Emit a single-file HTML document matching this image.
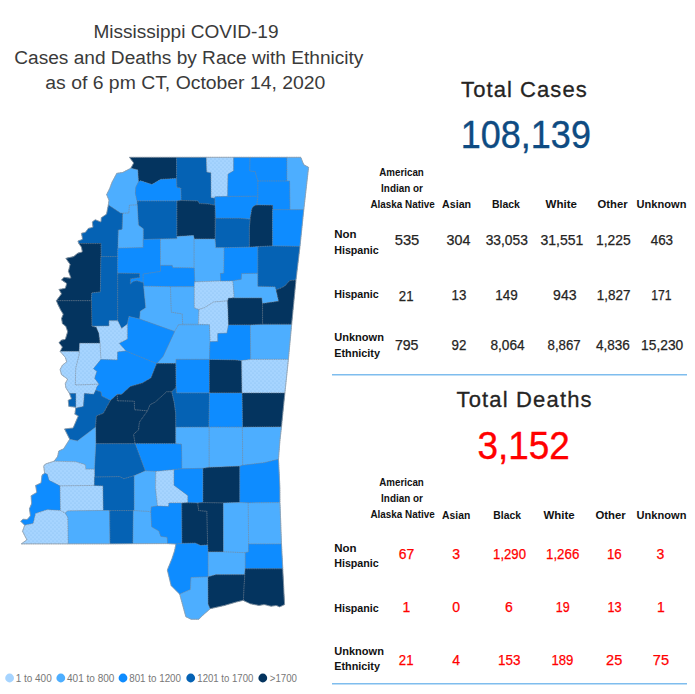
<!DOCTYPE html>
<html lang="en"><head><meta charset="utf-8"><title>Mississippi COVID-19 Cases and Deaths by Race with Ethnicity</title>
<style>
html,body{margin:0;padding:0;background:#fff;}
svg{display:block;font-family:"Liberation Sans", "DejaVu Sans", sans-serif;}
</style></head><body>
<svg width="695" height="694" viewBox="0 0 695 694">
<rect width="695" height="694" fill="#ffffff"/>
<text x="93.4" y="37.9" font-size="18" fill="#3a3a3a" font-weight="normal" textLength="185.1" lengthAdjust="spacingAndGlyphs">Mississippi COVID-19</text>
<text x="14.3" y="63.8" font-size="18" fill="#3a3a3a" font-weight="normal" textLength="349.1" lengthAdjust="spacingAndGlyphs">Cases and Deaths by Race with Ethnicity</text>
<text x="45.3" y="89.1" font-size="18" fill="#3a3a3a" font-weight="normal" textLength="280.1" lengthAdjust="spacingAndGlyphs">as of 6 pm CT, October 14, 2020</text>
<text x="461.1" y="97.0" font-size="22" fill="#252423" font-weight="normal" textLength="125.6" lengthAdjust="spacing" stroke="#252423" stroke-width="0.3">Total Cases</text>
<text x="460.8" y="147.9" font-size="38.5" fill="#0E4B82" font-weight="normal" textLength="130.1" lengthAdjust="spacingAndGlyphs" stroke="#0E4B82" stroke-width="0.4">108,139</text>
<text x="456.5" y="407.0" font-size="22" fill="#252423" font-weight="normal" textLength="135.1" lengthAdjust="spacing" stroke="#252423" stroke-width="0.3">Total Deaths</text>
<text x="477.6" y="459.2" font-size="38.5" fill="#FF0000" font-weight="normal" textLength="92.3" lengthAdjust="spacingAndGlyphs" stroke="#FF0000" stroke-width="0.4">3,152</text>
<text x="379.3" y="176.3" font-size="10" fill="#111111" font-weight="bold" textLength="44.5" lengthAdjust="spacingAndGlyphs">American</text>
<text x="381.1" y="191.9" font-size="10" fill="#111111" font-weight="bold" textLength="41.8" lengthAdjust="spacingAndGlyphs">Indian or</text>
<text x="370.4" y="207.9" font-size="10" fill="#111111" font-weight="bold" textLength="64.3" lengthAdjust="spacingAndGlyphs">Alaska Native</text>
<text x="442.1" y="207.8" font-size="10" fill="#111111" font-weight="bold" textLength="29.0" lengthAdjust="spacingAndGlyphs">Asian</text>
<text x="491.9" y="207.8" font-size="10" fill="#111111" font-weight="bold" textLength="28.0" lengthAdjust="spacingAndGlyphs">Black</text>
<text x="545.6" y="207.8" font-size="10" fill="#111111" font-weight="bold" textLength="31.4" lengthAdjust="spacingAndGlyphs">White</text>
<text x="597.6" y="207.8" font-size="10" fill="#111111" font-weight="bold" textLength="30.0" lengthAdjust="spacingAndGlyphs">Other</text>
<text x="636.6" y="207.8" font-size="10" fill="#111111" font-weight="bold" textLength="49.8" lengthAdjust="spacingAndGlyphs">Unknown</text>
<text x="379.3" y="486.3" font-size="10" fill="#111111" font-weight="bold" textLength="44.5" lengthAdjust="spacingAndGlyphs">American</text>
<text x="381.1" y="501.9" font-size="10" fill="#111111" font-weight="bold" textLength="41.8" lengthAdjust="spacingAndGlyphs">Indian or</text>
<text x="370.4" y="517.9" font-size="10" fill="#111111" font-weight="bold" textLength="64.3" lengthAdjust="spacingAndGlyphs">Alaska Native</text>
<text x="442.1" y="518.9" font-size="10" fill="#111111" font-weight="bold" textLength="28.2" lengthAdjust="spacingAndGlyphs">Asian</text>
<text x="493.3" y="518.9" font-size="10" fill="#111111" font-weight="bold" textLength="27.6" lengthAdjust="spacingAndGlyphs">Black</text>
<text x="543.4" y="518.9" font-size="10" fill="#111111" font-weight="bold" textLength="31.2" lengthAdjust="spacingAndGlyphs">White</text>
<text x="595.4" y="518.9" font-size="10" fill="#111111" font-weight="bold" textLength="30.3" lengthAdjust="spacingAndGlyphs">Other</text>
<text x="636.6" y="518.9" font-size="10" fill="#111111" font-weight="bold" textLength="49.8" lengthAdjust="spacingAndGlyphs">Unknown</text>
<text x="334.2" y="238.2" font-size="11" fill="#111111" font-weight="bold" textLength="22.3" lengthAdjust="spacingAndGlyphs">Non</text>
<text x="334.2" y="253.6" font-size="11" fill="#111111" font-weight="bold" textLength="44.6" lengthAdjust="spacingAndGlyphs">Hispanic</text>
<text x="334.2" y="298.4" font-size="11" fill="#111111" font-weight="bold" textLength="44.6" lengthAdjust="spacingAndGlyphs">Hispanic</text>
<text x="334.2" y="341.1" font-size="11" fill="#111111" font-weight="bold" textLength="49.8" lengthAdjust="spacingAndGlyphs">Unknown</text>
<text x="334.2" y="356.6" font-size="11" fill="#111111" font-weight="bold" textLength="45.8" lengthAdjust="spacingAndGlyphs">Ethnicity</text>
<text x="334.2" y="552.0" font-size="11" fill="#111111" font-weight="bold" textLength="22.3" lengthAdjust="spacingAndGlyphs">Non</text>
<text x="334.2" y="567.4" font-size="11" fill="#111111" font-weight="bold" textLength="44.6" lengthAdjust="spacingAndGlyphs">Hispanic</text>
<text x="334.2" y="611.9" font-size="11" fill="#111111" font-weight="bold" textLength="44.6" lengthAdjust="spacingAndGlyphs">Hispanic</text>
<text x="334.2" y="654.8" font-size="11" fill="#111111" font-weight="bold" textLength="49.8" lengthAdjust="spacingAndGlyphs">Unknown</text>
<text x="334.2" y="670.3" font-size="11" fill="#111111" font-weight="bold" textLength="45.8" lengthAdjust="spacingAndGlyphs">Ethnicity</text>
<text x="394.7" y="245.4" font-size="14" fill="#252423" font-weight="normal" textLength="24.6" lengthAdjust="spacingAndGlyphs" stroke="#252423" stroke-width="0.25">535</text>
<text x="446.6" y="245.4" font-size="14" fill="#252423" font-weight="normal" textLength="23.8" lengthAdjust="spacingAndGlyphs" stroke="#252423" stroke-width="0.25">304</text>
<text x="485.7" y="245.4" font-size="14" fill="#252423" font-weight="normal" textLength="42.2" lengthAdjust="spacingAndGlyphs" stroke="#252423" stroke-width="0.25">33,053</text>
<text x="540.5" y="245.4" font-size="14" fill="#252423" font-weight="normal" textLength="42.9" lengthAdjust="spacingAndGlyphs" stroke="#252423" stroke-width="0.25">31,551</text>
<text x="596.0" y="245.4" font-size="14" fill="#252423" font-weight="normal" textLength="34.7" lengthAdjust="spacingAndGlyphs" stroke="#252423" stroke-width="0.25">1,225</text>
<text x="650.7" y="245.4" font-size="14" fill="#252423" font-weight="normal" textLength="22.4" lengthAdjust="spacingAndGlyphs" stroke="#252423" stroke-width="0.25">463</text>
<text x="398.8" y="301.0" font-size="14" fill="#252423" font-weight="normal" textLength="14.7" lengthAdjust="spacingAndGlyphs" stroke="#252423" stroke-width="0.25">21</text>
<text x="451.5" y="300.3" font-size="14" fill="#252423" font-weight="normal" textLength="14.8" lengthAdjust="spacingAndGlyphs" stroke="#252423" stroke-width="0.25">13</text>
<text x="495.3" y="300.3" font-size="14" fill="#252423" font-weight="normal" textLength="22.5" lengthAdjust="spacingAndGlyphs" stroke="#252423" stroke-width="0.25">149</text>
<text x="553.1" y="300.3" font-size="14" fill="#252423" font-weight="normal" textLength="23.5" lengthAdjust="spacingAndGlyphs" stroke="#252423" stroke-width="0.25">943</text>
<text x="596.8" y="300.3" font-size="14" fill="#252423" font-weight="normal" textLength="33.7" lengthAdjust="spacingAndGlyphs" stroke="#252423" stroke-width="0.25">1,827</text>
<text x="651.2" y="300.3" font-size="14" fill="#252423" font-weight="normal" textLength="20.3" lengthAdjust="spacingAndGlyphs" stroke="#252423" stroke-width="0.25">171</text>
<text x="394.9" y="350.2" font-size="14" fill="#252423" font-weight="normal" textLength="23.6" lengthAdjust="spacingAndGlyphs" stroke="#252423" stroke-width="0.25">795</text>
<text x="451.5" y="350.2" font-size="14" fill="#252423" font-weight="normal" textLength="14.8" lengthAdjust="spacingAndGlyphs" stroke="#252423" stroke-width="0.25">92</text>
<text x="490.4" y="350.2" font-size="14" fill="#252423" font-weight="normal" textLength="34.2" lengthAdjust="spacingAndGlyphs" stroke="#252423" stroke-width="0.25">8,064</text>
<text x="547.6" y="350.2" font-size="14" fill="#252423" font-weight="normal" textLength="33.1" lengthAdjust="spacingAndGlyphs" stroke="#252423" stroke-width="0.25">8,867</text>
<text x="596.0" y="350.2" font-size="14" fill="#252423" font-weight="normal" textLength="33.9" lengthAdjust="spacingAndGlyphs" stroke="#252423" stroke-width="0.25">4,836</text>
<text x="641.1" y="350.2" font-size="14" fill="#252423" font-weight="normal" textLength="42.1" lengthAdjust="spacingAndGlyphs" stroke="#252423" stroke-width="0.25">15,230</text>
<text x="398.8" y="558.9" font-size="14" fill="#FF0000" font-weight="normal" textLength="15.5" lengthAdjust="spacingAndGlyphs" stroke="#FF0000" stroke-width="0.25">67</text>
<text x="456.1" y="558.9" font-size="14" fill="#FF0000" font-weight="normal" text-anchor="middle" stroke="#FF0000" stroke-width="0.25">3</text>
<text x="493.1" y="558.9" font-size="14" fill="#FF0000" font-weight="normal" textLength="32.9" lengthAdjust="spacingAndGlyphs" stroke="#FF0000" stroke-width="0.25">1,290</text>
<text x="546.0" y="558.9" font-size="14" fill="#FF0000" font-weight="normal" textLength="33.3" lengthAdjust="spacingAndGlyphs" stroke="#FF0000" stroke-width="0.25">1,266</text>
<text x="606.9" y="558.9" font-size="14" fill="#FF0000" font-weight="normal" textLength="14.8" lengthAdjust="spacingAndGlyphs" stroke="#FF0000" stroke-width="0.25">16</text>
<text x="660.5" y="558.9" font-size="14" fill="#FF0000" font-weight="normal" text-anchor="middle" stroke="#FF0000" stroke-width="0.25">3</text>
<text x="406.4" y="612.2" font-size="14" fill="#FF0000" font-weight="normal" text-anchor="middle" stroke="#FF0000" stroke-width="0.25">1</text>
<text x="456.1" y="612.2" font-size="14" fill="#FF0000" font-weight="normal" text-anchor="middle" stroke="#FF0000" stroke-width="0.25">0</text>
<text x="508.8" y="612.2" font-size="14" fill="#FF0000" font-weight="normal" text-anchor="middle" stroke="#FF0000" stroke-width="0.25">6</text>
<text x="555.8" y="612.2" font-size="14" fill="#FF0000" font-weight="normal" textLength="13.9" lengthAdjust="spacingAndGlyphs" stroke="#FF0000" stroke-width="0.25">19</text>
<text x="607.5" y="612.2" font-size="14" fill="#FF0000" font-weight="normal" textLength="14.2" lengthAdjust="spacingAndGlyphs" stroke="#FF0000" stroke-width="0.25">13</text>
<text x="661.0" y="612.2" font-size="14" fill="#FF0000" font-weight="normal" text-anchor="middle" stroke="#FF0000" stroke-width="0.25">1</text>
<text x="398.8" y="664.7" font-size="14" fill="#FF0000" font-weight="normal" textLength="14.7" lengthAdjust="spacingAndGlyphs" stroke="#FF0000" stroke-width="0.25">21</text>
<text x="456.1" y="664.7" font-size="14" fill="#FF0000" font-weight="normal" text-anchor="middle" stroke="#FF0000" stroke-width="0.25">4</text>
<text x="498.0" y="664.7" font-size="14" fill="#FF0000" font-weight="normal" textLength="22.5" lengthAdjust="spacingAndGlyphs" stroke="#FF0000" stroke-width="0.25">153</text>
<text x="551.4" y="664.7" font-size="14" fill="#FF0000" font-weight="normal" textLength="21.9" lengthAdjust="spacingAndGlyphs" stroke="#FF0000" stroke-width="0.25">189</text>
<text x="606.1" y="664.7" font-size="14" fill="#FF0000" font-weight="normal" textLength="16.1" lengthAdjust="spacingAndGlyphs" stroke="#FF0000" stroke-width="0.25">25</text>
<text x="652.8" y="664.7" font-size="14" fill="#FF0000" font-weight="normal" textLength="16.2" lengthAdjust="spacingAndGlyphs" stroke="#FF0000" stroke-width="0.25">75</text>
<line x1="332" y1="374.7" x2="687" y2="374.7" stroke="#7FBDEE" stroke-width="1.4"/>
<line x1="332" y1="683.8" x2="687" y2="683.8" stroke="#7FBDEE" stroke-width="1.4"/>
<circle cx="9.6" cy="678" r="4.4" fill="#A6D4FF"/>
<text x="15.7" y="681.6" font-size="10" fill="#777777" font-weight="normal" textLength="36.0" lengthAdjust="spacingAndGlyphs">1 to 400</text>
<circle cx="60.8" cy="678" r="4.4" fill="#4DAEFF"/>
<text x="67.0" y="681.6" font-size="10" fill="#777777" font-weight="normal" textLength="47.4" lengthAdjust="spacingAndGlyphs">401 to 800</text>
<circle cx="123" cy="678" r="4.4" fill="#0E8CFF"/>
<text x="129.2" y="681.6" font-size="10" fill="#777777" font-weight="normal" textLength="51.8" lengthAdjust="spacingAndGlyphs">801 to 1200</text>
<circle cx="190.7" cy="678" r="4.4" fill="#0562B4"/>
<text x="197.3" y="681.6" font-size="10" fill="#777777" font-weight="normal" textLength="56.0" lengthAdjust="spacingAndGlyphs">1201 to 1700</text>
<circle cx="262.8" cy="678" r="4.4" fill="#04345F"/>
<text x="269.8" y="681.6" font-size="10" fill="#777777" font-weight="normal" textLength="27.2" lengthAdjust="spacingAndGlyphs">&gt;1700</text>
<defs><pattern id="dots" width="4" height="4" patternUnits="userSpaceOnUse"><rect width="4" height="4" fill="#A6D4FF"/><circle cx="1" cy="1" r="0.6" fill="#86bdf2"/><circle cx="3" cy="3" r="0.6" fill="#86bdf2"/></pattern></defs>
<clipPath id="state"><path d="M20.7,521.2 L20.7,521.2 L24.5,525.0 L24.5,525.0 L24.5,525.0 L24.6,525.1 L24.6,525.1 L24.6,525.2 L24.6,525.2 L24.6,525.3 L24.6,525.3 L24.6,525.4 L24.6,525.4 L24.6,525.5 L24.6,525.5 L22.5,531.3 L22.5,531.3 L22.5,531.3 L26.7,539.5 L26.7,539.6 L26.7,539.6 L26.7,539.6 L26.8,539.7 L26.8,539.7 L26.8,539.8 L26.7,539.8 L26.7,539.9 L26.7,539.9 L26.7,540.0 L26.7,540.0 L26.6,540.1 L26.6,540.1 L26.6,540.1 L26.5,540.1 L21.2,543.9 L21.2,543.9 L21.2,543.9 L110.0,543.9 L133.0,543.7 L133.0,543.7 L167.6,543.6 L167.6,543.6 L175.3,544.1 L175.4,544.1 L175.4,544.1 L175.5,544.1 L175.5,544.1 L175.6,544.1 L175.6,544.2 L175.6,544.2 L175.7,544.2 L175.7,544.3 L175.7,544.3 L175.8,544.4 L175.8,544.4 L175.8,544.5 L175.8,544.5 L175.8,544.6 L175.8,544.6 L175.8,544.7 L174.5,551.0 L174.5,551.0 L171.9,558.8 L171.9,558.8 L167.3,570.0 L167.3,570.0 L167.3,570.0 L171.1,585.6 L171.1,585.6 L171.1,585.6 L179.6,594.1 L179.6,594.1 L179.7,594.2 L179.7,594.2 L179.7,594.3 L179.7,594.3 L182.3,603.8 L185.8,616.7 L185.8,616.7 L185.8,616.7 L191.0,619.3 L191.0,619.3 L191.0,619.3 L198.8,619.3 L198.8,619.3 L198.8,619.3 L203.1,615.0 L203.1,615.0 L210.2,608.8 L210.2,608.8 L210.3,608.7 L210.3,608.7 L210.4,608.7 L210.4,608.7 L224.4,605.5 L224.4,605.5 L236.5,602.0 L236.5,602.0 L243.2,600.4 L243.2,600.3 L243.3,600.3 L243.3,600.3 L243.4,600.3 L243.4,600.4 L243.5,600.4 L243.5,600.4 L243.6,600.4 L244.8,601.2 L244.8,601.2 L250.3,603.8 L250.3,603.8 L250.3,603.8 L259.0,605.5 L259.0,605.5 L259.0,605.5 L264.1,604.6 L264.1,604.6 L264.2,604.6 L264.3,604.6 L264.3,604.6 L271.1,606.3 L271.1,606.3 L271.1,606.3 L276.2,605.5 L276.2,605.5 L276.3,605.5 L276.3,605.5 L276.3,605.5 L276.4,605.5 L276.4,605.6 L279.7,606.9 L279.7,606.9 L279.7,606.9 L284.6,604.6 L284.6,604.6 L284.6,604.6 L282.8,568.8 L281.5,544.1 L281.5,544.1 L280.0,502.6 L280.0,502.6 L279.9,487.8 L279.9,487.8 L279.1,470.5 L278.5,459.3 L278.5,459.3 L279.9,441.1 L279.9,441.1 L281.5,426.9 L281.5,426.9 L284.9,393.0 L284.9,393.0 L288.4,359.4 L288.4,359.4 L291.7,324.2 L291.7,324.2 L296.0,280.1 L296.0,280.1 L300.0,246.5 L300.0,246.5 L303.8,209.7 L303.8,209.7 L308.6,167.3 L308.6,167.3 L308.6,167.3 L304.0,164.8 L303.9,164.8 L303.9,164.7 L303.8,164.7 L303.8,164.7 L303.8,164.6 L303.8,164.6 L303.7,164.5 L300.8,157.3 L300.8,157.3 L300.8,157.3 L129.4,157.3 L129.4,157.3 L129.4,157.3 L133.5,162.7 L133.5,162.8 L133.6,162.8 L133.6,162.9 L133.6,162.9 L133.6,163.0 L133.6,163.0 L133.6,163.1 L133.6,163.1 L133.6,163.2 L133.6,163.2 L133.6,163.2 L133.5,163.3 L130.9,168.1 L130.8,168.1 L130.8,168.1 L130.8,168.2 L130.7,168.2 L130.7,168.2 L130.7,168.3 L122.6,172.5 L122.5,172.5 L122.5,172.5 L122.4,172.5 L116.8,173.3 L116.8,173.3 L116.8,173.3 L112.1,182.0 L112.1,182.0 L109.5,188.9 L109.5,188.9 L106.6,194.6 L106.6,194.6 L106.6,194.6 L108.9,200.0 L109.0,200.0 L109.0,200.1 L109.0,200.1 L109.0,200.1 L109.0,200.2 L109.0,200.2 L108.3,205.0 L108.3,205.0 L106.5,214.0 L106.5,214.0 L106.5,214.1 L106.5,214.1 L106.5,214.2 L106.4,214.2 L106.4,214.3 L106.4,214.3 L106.3,214.3 L101.3,217.7 L101.3,217.7 L101.3,217.7 L101.0,221.3 L101.0,221.4 L100.9,221.4 L100.9,221.5 L100.9,221.5 L100.9,221.6 L100.9,221.6 L100.8,221.6 L100.8,221.7 L100.7,221.7 L100.7,221.7 L100.7,221.7 L100.6,221.8 L100.6,221.8 L100.5,221.8 L100.5,221.8 L100.4,221.8 L100.4,221.8 L100.3,221.8 L100.3,221.7 L95.2,219.7 L95.2,219.7 L95.2,219.7 L92.3,222.0 L92.3,222.0 L92.3,222.0 L92.9,226.8 L92.9,226.8 L92.9,226.9 L92.9,226.9 L92.9,227.0 L92.9,227.0 L92.9,227.0 L92.9,227.1 L92.8,227.1 L92.8,227.2 L92.8,227.2 L92.7,227.2 L92.7,227.3 L92.7,227.3 L92.6,227.3 L92.6,227.3 L88.3,228.4 L88.3,228.4 L88.3,228.4 L85.5,232.2 L85.5,232.3 L85.5,232.3 L85.4,232.3 L85.4,232.4 L85.3,232.4 L85.3,232.4 L85.3,232.4 L85.2,232.4 L81.4,233.2 L81.4,233.2 L81.4,233.2 L82.5,238.9 L82.5,238.9 L82.5,239.0 L82.5,239.0 L82.5,239.1 L82.5,239.1 L82.5,239.2 L82.5,239.2 L82.4,239.3 L82.4,239.3 L82.4,239.3 L82.3,239.4 L82.3,239.4 L82.2,239.4 L82.2,239.4 L77.9,241.0 L77.9,241.0 L77.9,241.0 L78.8,243.6 L78.8,243.6 L78.8,243.6 L81.3,247.0 L81.4,247.0 L81.4,247.1 L81.4,247.1 L81.4,247.2 L81.4,247.2 L82.2,251.4 L82.2,251.5 L82.2,251.5 L82.2,251.6 L82.2,251.6 L82.2,251.7 L82.2,251.7 L82.2,251.8 L82.1,251.8 L82.1,251.9 L82.1,251.9 L82.0,251.9 L82.0,252.0 L81.9,252.0 L81.9,252.0 L81.9,252.0 L77.9,253.1 L77.9,253.1 L77.9,253.1 L73.7,256.5 L73.7,256.6 L73.6,256.6 L73.6,256.6 L73.5,256.6 L73.5,256.6 L65.8,258.3 L65.8,258.3 L65.8,258.3 L70.0,264.2 L70.0,264.3 L70.0,264.3 L70.0,264.3 L70.0,264.4 L70.1,264.4 L70.1,264.5 L70.1,264.5 L70.1,264.6 L70.0,264.6 L68.4,271.3 L68.4,271.3 L68.4,271.3 L70.7,277.4 L70.7,277.5 L70.7,277.5 L70.7,277.6 L70.7,277.6 L70.7,277.7 L70.7,277.7 L70.7,277.8 L70.7,277.8 L70.7,277.8 L70.6,277.9 L70.6,277.9 L70.6,278.0 L70.5,278.0 L70.5,278.0 L70.5,278.0 L70.4,278.1 L70.4,278.1 L70.3,278.1 L70.3,278.1 L70.2,278.1 L70.2,278.1 L64.1,277.3 L64.1,277.3 L64.1,277.3 L61.5,279.9 L61.5,279.9 L61.5,279.9 L66.4,283.2 L66.4,283.2 L66.5,283.3 L66.5,283.3 L66.5,283.3 L66.6,283.4 L66.6,283.4 L66.6,283.5 L66.6,283.5 L66.6,283.6 L66.6,283.6 L66.6,283.7 L66.6,283.7 L66.6,283.8 L65.4,287.9 L65.4,288.0 L65.3,288.0 L65.3,288.0 L65.3,288.1 L65.3,288.1 L65.2,288.2 L65.2,288.2 L65.1,288.2 L65.1,288.2 L65.0,288.2 L65.0,288.3 L58.9,289.4 L58.9,289.4 L58.9,289.4 L61.3,293.5 L61.4,293.6 L61.4,293.6 L61.4,293.6 L61.4,293.7 L61.4,293.7 L61.4,293.8 L61.4,293.8 L61.4,293.9 L61.4,293.9 L61.3,294.0 L61.3,294.0 L61.3,294.1 L56.3,300.7 L56.3,300.7 L56.3,300.7 L58.0,304.7 L58.0,304.7 L60.6,309.9 L60.6,309.9 L63.1,314.0 L63.1,314.0 L63.1,314.1 L63.1,314.1 L63.1,314.2 L63.1,314.2 L63.1,314.3 L63.1,314.3 L63.1,314.4 L63.1,314.4 L61.5,318.5 L61.5,318.5 L61.5,318.5 L62.4,323.7 L62.4,323.7 L62.4,323.7 L65.7,326.2 L65.7,326.2 L65.8,326.3 L65.8,326.3 L65.8,326.4 L65.8,326.4 L65.8,326.4 L67.5,331.3 L67.6,331.4 L67.6,331.4 L67.6,331.5 L67.6,331.6 L67.6,331.6 L67.6,331.7 L65.4,339.0 L65.4,339.1 L65.3,339.1 L65.3,339.1 L65.3,339.2 L65.3,339.2 L65.2,339.3 L65.2,339.3 L65.1,339.3 L65.1,339.3 L65.1,339.3 L65.0,339.4 L61.5,340.1 L61.5,340.1 L61.5,340.1 L58.9,342.7 L58.9,342.7 L58.9,342.7 L62.2,346.8 L62.2,346.9 L62.2,346.9 L62.3,347.0 L62.3,347.0 L62.3,347.1 L62.3,347.1 L62.3,347.2 L62.3,347.2 L62.3,347.3 L62.3,347.3 L62.3,347.3 L62.2,347.4 L60.1,351.4 L60.1,351.4 L60.1,351.4 L62.4,354.0 L62.4,354.0 L65.2,357.3 L65.3,357.4 L65.3,357.4 L65.3,357.4 L65.3,357.5 L66.6,361.5 L66.6,361.5 L66.6,361.6 L66.6,361.6 L66.6,361.7 L66.6,361.7 L66.6,361.8 L66.6,361.8 L66.6,361.9 L66.5,361.9 L66.5,361.9 L66.5,362.0 L66.4,362.0 L62.4,365.2 L62.4,365.2 L62.4,365.2 L60.1,369.5 L60.1,369.5 L60.1,369.5 L61.5,374.7 L61.5,374.7 L61.5,374.7 L67.2,378.8 L67.3,378.9 L67.3,378.9 L67.3,378.9 L67.4,379.0 L67.4,379.0 L67.4,379.1 L67.4,379.1 L67.4,379.2 L67.5,379.2 L67.5,379.3 L67.4,379.3 L67.4,379.4 L67.4,379.4 L67.4,379.4 L67.4,379.5 L65.3,383.4 L65.3,383.4 L65.3,383.4 L65.8,387.7 L65.8,387.7 L65.8,387.7 L69.5,393.4 L69.5,393.4 L69.5,393.5 L71.3,398.4 L71.3,398.4 L71.4,398.4 L71.4,398.5 L71.4,398.5 L71.4,398.6 L71.4,398.6 L71.3,398.7 L71.3,398.7 L71.3,398.8 L71.3,398.8 L71.2,398.8 L71.2,398.9 L71.2,398.9 L71.1,398.9 L71.1,399.0 L71.1,399.0 L68.2,400.2 L68.2,400.2 L68.2,400.2 L68.8,406.4 L68.8,406.4 L68.8,406.4 L75.3,407.2 L75.3,407.3 L75.4,407.3 L75.4,407.3 L75.4,407.3 L75.5,407.3 L75.5,407.4 L75.6,407.4 L75.6,407.4 L75.6,407.5 L75.6,407.5 L75.7,407.6 L75.7,407.6 L75.7,407.6 L75.7,407.7 L75.7,407.7 L75.7,408.2 L75.7,408.2 L75.7,408.2 L74.8,414.2 L74.8,414.2 L74.8,414.2 L77.9,415.7 L77.9,415.7 L78.0,415.7 L78.0,415.8 L78.0,415.8 L78.1,415.8 L78.1,415.9 L78.1,415.9 L78.1,416.0 L78.1,416.0 L78.1,416.1 L78.2,416.1 L78.2,416.2 L78.1,416.2 L78.1,416.2 L78.1,416.3 L78.1,416.3 L73.2,427.7 L73.2,427.8 L73.2,427.8 L73.1,427.9 L73.1,427.9 L73.1,427.9 L73.0,427.9 L73.0,428.0 L72.9,428.0 L72.9,428.0 L72.9,428.0 L72.8,428.0 L64.5,428.9 L64.5,428.9 L64.5,428.9 L69.6,439.0 L69.6,439.1 L69.6,439.1 L69.6,439.2 L69.6,439.2 L69.6,439.3 L69.6,439.3 L69.6,439.4 L69.6,439.4 L69.6,439.5 L69.6,439.5 L69.5,439.5 L63.7,448.7 L63.7,448.7 L63.6,448.7 L63.6,448.8 L63.5,448.8 L63.5,448.8 L63.5,448.9 L58.8,450.9 L58.8,450.9 L58.8,450.9 L57.6,456.5 L57.6,456.5 L57.6,456.6 L57.6,456.6 L57.6,456.7 L57.5,456.7 L54.2,461.1 L54.2,461.1 L54.1,461.1 L54.1,461.2 L54.0,461.2 L54.0,461.2 L54.0,461.2 L45.4,464.0 L45.4,464.0 L45.4,464.0 L43.7,466.1 L43.7,466.1 L43.7,466.1 L44.6,473.0 L44.6,473.0 L44.6,473.1 L44.6,473.1 L44.5,473.2 L44.5,473.2 L44.5,473.3 L44.5,473.3 L44.5,473.4 L44.4,473.4 L44.4,473.4 L44.4,473.5 L42.0,475.1 L42.0,475.1 L42.0,475.1 L41.1,482.6 L41.1,482.7 L41.1,482.7 L41.1,482.8 L41.1,482.8 L41.0,482.9 L41.0,482.9 L41.0,482.9 L40.9,483.0 L40.9,483.0 L40.8,483.0 L35.6,485.4 L35.6,485.4 L35.6,485.4 L36.7,492.1 L36.7,492.1 L36.7,492.2 L36.7,492.2 L36.7,492.3 L36.7,492.3 L36.7,492.4 L36.7,492.4 L36.7,492.4 L36.6,492.5 L36.6,492.5 L36.5,492.5 L36.5,492.6 L31.1,495.8 L31.1,495.8 L31.1,495.8 L31.6,503.5 L31.6,503.5 L31.6,503.6 L31.6,503.6 L31.6,503.7 L31.6,503.7 L29.4,508.8 L29.4,508.8 L29.4,508.8 L30.4,515.5 L30.4,515.5 L30.4,515.6 L30.4,515.6 L30.4,515.7 L30.3,515.7 L30.3,515.8 L30.3,515.8 L30.3,515.9 L27.5,519.3 L27.4,519.3 L27.4,519.4 L27.4,519.4 L27.3,519.4 L27.3,519.4 L27.2,519.5 L27.2,519.5 L27.1,519.5 L27.1,519.5 L27.0,519.5 L23.0,519.2 L23.0,519.2 L23.0,519.2 L20.7,521.2 L20.7,521.2Z"/></clipPath>
<g stroke-width="1.6" stroke-linejoin="round" clip-path="url(#state)">
<polygon points="129.4,157.3 176.6,157.3 176.6,178.5 160.5,179.4 151.9,184.6 140.6,180.8 138.4,182 137.7,169.9 130.8,168.2 133.7,163" fill="#04345F" stroke="#04345F"/>
<polygon points="137.7,169.9 130.8,168.2 122.5,172.5 116.8,173.3 112.1,182 109.5,188.9 106.6,194.6 109,200.1 108.3,205 120.4,213.1 129,213.1 129.4,205.3 137.2,205 136.8,200.1 135.4,193.2 135.8,187.2 138.4,182" fill="#4DAEFF" stroke="#4DAEFF"/>
<polygon points="138.4,182 140.6,180.8 151.9,184.6 160.5,179.4 176.6,178.5 176.9,187.2 180.9,188 181.3,200.5 177,201 138,201 136.8,200.1 135.4,193.2 135.8,187.2" fill="#0E8CFF" stroke="#0E8CFF"/>
<polygon points="176.6,157.3 206.4,157.3 206.9,172.1 211,172.5 211.2,197.6 215,198.4 215,205.3 208.1,204 199.4,203.6 197.7,201 181.3,200.5 180.9,188 176.9,187.2 176.6,178.5" fill="#0562B4" stroke="#0562B4"/>
<polygon points="206.4,157.3 233.7,157.3 233.7,170.8 228,174.2 227.7,196.3 215.6,196.7 211.2,197.6 211,172.5 206.9,172.1" fill="#A6D4FF" stroke="#A6D4FF"/>
<polygon points="233.7,157.3 250.1,157.3 249.8,170.8 255.3,171.6 257.9,181.1 257.9,196.3 227.7,196.3 228,174.2 233.7,170.8" fill="#0E8CFF" stroke="#0E8CFF"/>
<polygon points="250.1,157.3 287,157.3 287,181.1 257.9,181.1 255.3,171.6 249.8,170.8" fill="#0E8CFF" stroke="#0E8CFF"/>
<polygon points="287,157.3 300.8,157.3 303.8,164.7 308.6,167.3 303.8,209.7 289.9,209.7 289.6,181.1 287,181.1" fill="#4DAEFF" stroke="#4DAEFF"/>
<polygon points="257.9,181.1 289.6,181.1 289.9,209.7 272.6,209.7 272.6,205.3 256.7,205 257.9,196.3" fill="#0E8CFF" stroke="#0E8CFF"/>
<polygon points="215.6,196.7 257.9,196.3 256.7,205 253.6,206.2 251.9,208.8 250.1,219.2 239.8,218.3 215.6,218.3 215,205.3 215,198.4" fill="#0E8CFF" stroke="#0E8CFF"/>
<polygon points="256.7,205 272.6,205.3 272.6,246 257.9,246.5 249.3,247.2 249.3,227.8 250.1,219.2 251.9,208.8 253.6,206.2" fill="#04345F" stroke="#04345F"/>
<polygon points="272.6,209.7 303.8,209.7 300,246.5 272.6,246" fill="#0E8CFF" stroke="#0E8CFF"/>
<polygon points="215.6,218.3 239.8,218.3 250.1,219.2 249.3,227.8 249.3,247.2 224.2,247.7 215.6,247.7 215,239" fill="#0562B4" stroke="#0562B4"/>
<polygon points="138,201 177,201 177,238.8 160.5,239 143.2,239.6 143.2,228.7 138.4,225.2 137.2,205" fill="#0562B4" stroke="#0562B4"/>
<polygon points="177,201 181.3,200.5 197.7,201 199.4,203.6 208.1,204 215,205.3 215,239 194.2,239 193.4,235.6 177,236.5" fill="#04345F" stroke="#04345F"/>
<polygon points="129.4,205.3 137.2,205 138.4,225.2 143.2,228.7 143.2,247.7 117.8,248.2 118.2,229.9 122.1,229.2 122.5,213.5 129,213.1" fill="#4DAEFF" stroke="#4DAEFF"/>
<polygon points="108.3,205 120.4,213.1 122.5,213.5 122.1,229.2 118.2,229.9 117.8,248.2 117.7,256.6 100.9,256.6 100.9,243.6 78.8,243.6 77.9,241 82.6,239.3 81.4,233.2 85.4,232.4 88.3,228.4 93,227.2 92.3,222 95.2,219.7 100.9,222 101.3,217.7 106.5,214.2" fill="#0562B4" stroke="#0562B4"/>
<polygon points="78.8,243.6 100.9,243.6 100.9,256.6 100.4,292 91.8,292.9 91.4,300.7 56.3,300.7 61.5,293.8 58.9,289.4 65.3,288.2 66.7,283.4 61.5,279.9 64.1,277.3 71,278.2 68.4,271.3 70.1,264.4 65.8,258.3 73.6,256.6 77.9,253.1 82.3,251.9 81.4,247.1" fill="#04345F" stroke="#04345F"/>
<polygon points="100.9,256.6 117.7,256.6 117.7,273 117.7,320.8 109.1,320.8 109.1,326 91.8,326.3 91.4,300.7 91.8,292.9 100.4,292" fill="#0562B4" stroke="#0562B4"/>
<polygon points="117.8,248.2 143.2,247.6 143.2,239.5 160.5,239 160.5,265.4 160.5,271.5 143.2,274.1 143.3,283 142.6,282.6 136.9,280.8 133.4,281.4 130.3,284 130.5,278.8 139.5,277.4 139.5,273.5 117.7,273.2" fill="#0E8CFF" stroke="#0E8CFF"/>
<polygon points="160.5,239 177,238.8 177,236.5 193.4,235.6 194.2,239 194.2,268 172.6,267.7 172.3,265.4 160.5,265.4" fill="#4DAEFF" stroke="#4DAEFF"/>
<polygon points="194.2,239 215,239 215.6,247.7 224.2,247.7 223.9,273.2 220.4,273.6 220.8,281 194.7,281.9 194.2,268" fill="#4DAEFF" stroke="#4DAEFF"/>
<polygon points="160.5,265.4 172.3,265.4 172.6,267.7 194.2,268 194.7,281.9 194.4,286.7 170.5,286.7 143.7,286.2 143.2,281.9 143.2,274.1 160.5,271.5" fill="#0E8CFF" stroke="#0E8CFF"/>
<polygon points="117.7,273.2 139.5,273.5 139.5,277.4 130.5,278.8 130.3,284 133.4,281.4 136.9,280.8 142.6,282.6 143.3,283 143.7,286.2 145.8,307.8 140.3,311.3 139.7,319.1 129,316.5 127.3,324.3 121.6,328.6 117.7,320.8" fill="#0562B4" stroke="#0562B4"/>
<polygon points="143.7,286.2 170.5,286.7 171.4,312.1 182.3,313.9 182.6,324.2 178.5,324.8 174.6,331.5 139.7,319.1 140.3,311.3 145.8,307.8" fill="#4DAEFF" stroke="#4DAEFF"/>
<polygon points="170.5,286.7 194.4,286.7 194.4,307.8 199,309.5 198.5,324.2 182.6,324.2 182.3,313.9 171.4,312.1" fill="#4DAEFF" stroke="#4DAEFF"/>
<polygon points="194.7,281.9 220.8,281 232.9,281 233.7,289.7 234.2,297.8 228.5,298.3 227.7,300.9 213.8,302 204.3,307.8 199,309.5 194.4,307.8 194.4,286.7" fill="#A6D4FF" stroke="#A6D4FF"/>
<polygon points="199,309.5 204.3,307.8 213.8,302 227.7,300.9 228.5,324.8 227,333.2 217.8,333.5 217.8,341.5 210,341.8 209.4,324.8 198.5,324.2" fill="#A6D4FF" stroke="#A6D4FF"/>
<polygon points="178.5,324.8 209.4,324.8 210,341.8 209.5,359.4 176.1,359.4 175.7,363.6 156.7,363.6 163.1,356.3 174.6,331.5" fill="#4DAEFF" stroke="#4DAEFF"/>
<polygon points="129,316.5 139.7,319.1 174.6,331.5 163.1,356.3 156.7,363.6 125.9,351.1 119,343.3 127.3,339 127.3,324.3" fill="#0E8CFF" stroke="#0E8CFF"/>
<polygon points="109.1,320.8 117.7,320.8 121.6,328.6 127.3,324.3 127.3,339 119,343.3 125.9,351.1 117.7,351.9 117.5,360 100.9,359.5 99.9,343.3 98.7,333.2 96.1,327.2 91.8,326.3 109.1,326" fill="#A6D4FF" stroke="#A6D4FF"/>
<polygon points="56.3,300.7 91.4,300.7 91.8,326.3 96.1,327.2 98.7,333.2 99.9,343.3 79.7,343.3 79.3,351.4 60.1,351.4 62.4,347.1 58.9,342.7 61.5,340.1 65.3,339.3 67.6,331.5 65.8,326.3 62.4,323.7 61.5,318.5 63.2,314.2 60.6,309.9 58,304.7" fill="#04345F" stroke="#04345F"/>
<polygon points="79.7,343.3 99.9,343.3 100.9,359.5 93.5,368.7 97,371.3 94.7,378.2 99.2,384.2 75.3,385.1 75.7,367.8 78.8,355.7 79.3,351.4" fill="#A6D4FF" stroke="#A6D4FF"/>
<polygon points="60.1,351.4 79.3,351.4 78.8,355.7 75.7,367.8 75.3,385.1 99.2,384.2 97,386.8 95.8,390.3 93.8,394.2 84.4,393.6 83.5,406.4 75.7,408.2 75.7,393.6 69.5,393.4 65.8,387.7 65.3,383.4 67.6,379.1 61.5,374.7 60.1,369.5 62.4,365.2 66.7,361.8 65.3,357.4 62.4,354" fill="#A6D4FF" stroke="#A6D4FF"/>
<polygon points="117.5,360 117.7,351.9 125.9,351.1 156.7,363.6 151,377.9 142.4,383.1 130.3,386.6 121.6,394.4 117.3,394.4 110.5,400.5 101.6,396.1 101,392 95.8,390.3 97,386.8 99.2,384.2 94.7,378.2 97,371.3 93.5,368.7 100.9,359.5" fill="#0E8CFF" stroke="#0E8CFF"/>
<polygon points="156.7,363.6 175.7,363.6 176.1,387.4 171.8,391.8 166.6,391.8 155.3,402.1 150.1,404.7 147.6,410.8 134.6,409.9 134.2,401.3 117.3,400.9 117.3,394.4 121.6,394.4 130.3,386.6 142.4,383.1 151,377.9" fill="#04345F" stroke="#04345F"/>
<polygon points="84.4,393.6 93.8,394.2 95.8,390.3 101,392 101.6,396.1 110.5,400.5 103.4,413.3 96.5,415.9 95.6,427.2 77.4,441 69.7,439.3 64.5,428.9 73.1,428 78.3,415.9 74.8,414.2 75.7,408.2 83.5,406.4" fill="#0562B4" stroke="#0562B4"/>
<polygon points="69.5,393.4 75.7,393.6 75.7,407.3 68.8,406.4 68.2,400.2 71.5,398.8" fill="#0562B4" stroke="#0562B4"/>
<polygon points="110.5,400.5 117.3,394.4 117.3,400.9 134.2,401.3 134.6,409.9 147.6,410.8 139.5,422.1 138.6,429.9 133.7,434.2 135.1,443.7 95.7,443.7 95.6,427.2 96.5,415.9 103.4,413.3" fill="#04345F" stroke="#04345F"/>
<polygon points="171.8,391.8 174.4,403 175.7,413.4 175.8,427.3 175.8,443.7 135.1,443.7 133.7,434.2 138.6,429.9 139.5,422.1 147.6,410.8 150.1,404.7 155.3,402.1 166.6,391.8" fill="#04345F" stroke="#04345F"/>
<polygon points="176.1,359.4 209.5,359.4 209.5,393 176.4,393 176.1,387.4" fill="#0E8CFF" stroke="#0E8CFF"/>
<polygon points="171.8,391.8 176.1,387.4 176.4,393 209.5,393 209,427.2 175.8,427.3 175.7,413.4 174.4,403" fill="#0562B4" stroke="#0562B4"/>
<polygon points="209.5,359.4 234.8,359.8 241.7,360.6 242,393 209.5,393" fill="#04345F" stroke="#04345F"/>
<polygon points="228.5,324.8 250.4,324.8 250.7,359.4 241.7,360.6 234.8,359.8 209.5,359.4 210,341.8 217.8,341.5 217.8,333.5 227,333.2" fill="#0E8CFF" stroke="#0E8CFF"/>
<polygon points="250.4,324.8 262.6,324.2 291.7,324.2 288.4,359.4 250.7,359.4" fill="#4DAEFF" stroke="#4DAEFF"/>
<polygon points="241.7,360.6 250.7,359.4 288.4,359.4 284.9,393 242,393" fill="#A6D4FF" stroke="#A6D4FF"/>
<polygon points="242,393 284.9,393 281.5,426.9 242.4,427.2" fill="#04345F" stroke="#04345F"/>
<polygon points="209.5,393 242,393 242.4,427.2 209,427.2" fill="#0E8CFF" stroke="#0E8CFF"/>
<polygon points="228.5,298.3 234.2,297.8 261.9,297.8 262.6,303.5 262.6,324.2 250.4,324.8 228.5,324.8 227.7,300.9" fill="#04345F" stroke="#04345F"/>
<polygon points="241.5,273.6 257.9,273.2 257.9,286.2 275.2,286.7 276.1,289.7 278.7,301.2 262.6,303.5 261.9,297.8 234.2,297.8 233.7,289.7 232.9,281 233.2,280.5 241.2,279.3" fill="#4DAEFF" stroke="#4DAEFF"/>
<polygon points="224.2,247.7 249.3,247.2 257.9,246.8 257.9,273.2 241.5,273.6 241.2,279.3 233.2,280.5 220.8,281 220.4,273.6 223.9,273.2" fill="#0E8CFF" stroke="#0E8CFF"/>
<polygon points="257.9,246.8 272.6,246 300,246.5 296,280.1 289.9,280.5 284.7,286.2 279.5,288.8 276.1,289.7 275.2,286.7 257.9,286.2 257.9,273.2" fill="#0562B4" stroke="#0562B4"/>
<polygon points="296,280.1 289.9,280.5 284.7,286.2 279.5,288.8 276.1,289.7 278.7,301.2 262.6,303.5 262.6,324.2 291.7,324.2" fill="#04345F" stroke="#04345F"/>
<polygon points="209,427.2 242.4,427.2 242.7,465.3 239.8,466.2 209,467.4" fill="#4DAEFF" stroke="#4DAEFF"/>
<polygon points="242.4,427.2 281.5,426.9 279.9,441.1 278.5,459.3 264.4,462.7 242.7,465.3" fill="#4DAEFF" stroke="#4DAEFF"/>
<polygon points="175.8,427.3 209,427.2 209,467.4 203,468.3 181.8,468.8 181.5,444.2 175.8,443.7" fill="#4DAEFF" stroke="#4DAEFF"/>
<polygon points="135.1,443.7 175.8,443.7 181.5,444.2 181.8,468.8 174.1,469.7 155.9,471.4 145.2,470.9" fill="#0E8CFF" stroke="#0E8CFF"/>
<polygon points="95.7,443.7 135.1,443.7 145.2,470.9 134.3,475.7 123.9,478.8 119.6,476.6 94.5,477.1 94.4,469.2" fill="#0562B4" stroke="#0562B4"/>
<polygon points="95.6,427.2 95.7,443.7 94.4,469.2 85.7,469.2 85.2,464.7 75.7,461.8 54.1,461.2 57.6,456.6 58.8,450.9 63.6,448.8 69.7,439.3 77.4,441" fill="#4DAEFF" stroke="#4DAEFF"/>
<polygon points="54.1,461.2 75.7,461.8 85.2,464.7 85.7,469.2 94.4,469.2 94.5,477.1 94.4,485.4 60.1,486 48.9,480.3 47.2,474.2 44.6,473.3 43.7,466.1 45.4,464" fill="#A6D4FF" stroke="#A6D4FF"/>
<polygon points="44.6,473.3 47.2,474.2 48.9,480.3 60.1,486 60.5,510.5 47.2,509.7 35.6,513.6 33.3,523.5 24.7,525.2 20.7,521.2 23,519.2 27.3,519.5 30.4,515.7 29.4,508.8 31.6,503.6 31.1,495.8 36.8,492.4 35.6,485.4 41.1,482.9 42,475.1" fill="#0E8CFF" stroke="#0E8CFF"/>
<polygon points="47.2,509.7 60.5,510.5 65.3,513.1 67.9,517.4 68.3,543.9 21.2,543.9 26.9,539.9 22.5,531.3 24.7,525.2 33.3,523.5 35.6,513.6" fill="#A6D4FF" stroke="#A6D4FF"/>
<polygon points="60.1,486 94.4,485.4 103,485.8 103.4,510.5 67.9,510.9 65.3,513.1 60.5,510.5" fill="#A6D4FF" stroke="#A6D4FF"/>
<polygon points="94.5,477.1 119.6,476.6 123.9,478.8 134.3,475.7 134.3,510.5 109.7,510.6 103.4,510.5 103,485.8 94.4,485.4" fill="#0562B4" stroke="#0562B4"/>
<polygon points="65.3,513.1 67.9,510.9 103.4,510.5 109.7,510.6 110,543.9 68.3,543.9 67.9,517.4" fill="#4DAEFF" stroke="#4DAEFF"/>
<polygon points="109.7,510.6 133.4,510.6 133,543.7 110,543.9" fill="#0562B4" stroke="#0562B4"/>
<polygon points="133.4,510.6 134.3,510.5 146.9,511.2 150.9,511.9 151.7,526.8 159,531.1 160.7,536.3 167.3,537.2 167.6,543.6 133,543.7" fill="#4DAEFF" stroke="#4DAEFF"/>
<polygon points="134.3,475.7 145.2,470.9 155.9,471.4 155.6,487.8 157.6,506 151.4,506.9 150.9,511.9 146.9,511.2 134.3,510.5" fill="#4DAEFF" stroke="#4DAEFF"/>
<polygon points="155.9,471.4 174.1,469.7 174.1,485.2 187.9,495.6 187.9,502.8 181.8,503 168.9,503 168.7,506.6 157.6,506 155.6,487.8" fill="#A6D4FF" stroke="#A6D4FF"/>
<polygon points="174.1,469.7 181.8,468.8 203,468.3 203,502.6 197.8,503 187.9,502.8 187.9,495.6 174.1,485.2" fill="#0E8CFF" stroke="#0E8CFF"/>
<polygon points="203,468.3 209,467.4 239.8,466.2 239.8,502.6 223.4,503 203,502.6" fill="#04345F" stroke="#04345F"/>
<polygon points="239.8,466.2 242.7,465.3 264.4,462.7 278.5,459.3 279.1,470.5 279.9,487.8 280,502.6 248.3,502.9 239.8,502.6" fill="#0E8CFF" stroke="#0E8CFF"/>
<polygon points="151.4,506.9 157.6,506 168.7,506.6 168.9,503 181.8,503 182,543.4 175.9,544.1 167.6,543.6 167.3,537.2 160.7,536.3 159,531.1 151.7,526.8 150.9,511.9" fill="#0E8CFF" stroke="#0E8CFF"/>
<polygon points="181.8,503 187.9,502.8 197.8,503 198.7,510.5 207,511.2 207.6,545 200.5,545.5 195.3,543.2 182,543.4" fill="#04345F" stroke="#04345F"/>
<polygon points="197.8,503 203,502.6 223.4,503 223.5,551.9 208,551.9 207.6,545 207,511.2 198.7,510.5" fill="#04345F" stroke="#04345F"/>
<polygon points="223.4,503 239.8,502.6 248.3,502.9 248.6,544.1 248.6,551.9 245.1,552.7 223.5,551.9" fill="#4DAEFF" stroke="#4DAEFF"/>
<polygon points="248.3,502.9 280,502.6 281.5,544.1 248.6,544.1" fill="#4DAEFF" stroke="#4DAEFF"/>
<polygon points="248.6,544.1 281.5,544.1 282.8,568.8 245.1,568.8 245.1,552.7 248.6,551.9" fill="#0E8CFF" stroke="#0E8CFF"/>
<polygon points="208,551.9 223.5,551.9 245.1,552.7 245.1,568.8 244.8,574.7 215.8,574.7 208,576.9" fill="#4DAEFF" stroke="#4DAEFF"/>
<polygon points="175.9,544.1 182,543.4 195.3,543.2 200.5,545.5 207.6,545 208,551.9 208,576.9 191,577.5 190.5,589.6 179.7,594.2 171.1,585.6 167.3,570 171.9,558.8 174.5,551" fill="#0E8CFF" stroke="#0E8CFF"/>
<polygon points="191,577.5 208,576.9 208.2,604 210.3,608.7 203.1,615 198.8,619.3 191,619.3 185.8,616.7 182.3,603.8 179.7,594.2 190.5,589.6" fill="#4DAEFF" stroke="#4DAEFF"/>
<polygon points="208,576.9 215.8,574.7 244.8,574.7 243.4,600.3 236.5,602 224.4,605.5 210.3,608.7 208.2,604" fill="#04345F" stroke="#04345F"/>
<polygon points="245.1,568.8 282.8,568.8 284.6,604.6 279.7,606.9 276.3,605.5 271.1,606.3 264.2,604.6 259,605.5 250.3,603.8 244.8,601.2 243.4,600.3 244.8,574.7" fill="#04345F" stroke="#04345F"/>
</g>
<g stroke="#7c8794" stroke-width="0.55" stroke-dasharray="1.1 0.7" stroke-linejoin="round">
<polygon points="129.4,157.3 176.6,157.3 176.6,178.5 160.5,179.4 151.9,184.6 140.6,180.8 138.4,182 137.7,169.9 130.8,168.2 133.7,163" fill="#04345F"/>
<polygon points="137.7,169.9 130.8,168.2 122.5,172.5 116.8,173.3 112.1,182 109.5,188.9 106.6,194.6 109,200.1 108.3,205 120.4,213.1 129,213.1 129.4,205.3 137.2,205 136.8,200.1 135.4,193.2 135.8,187.2 138.4,182" fill="#4DAEFF"/>
<polygon points="138.4,182 140.6,180.8 151.9,184.6 160.5,179.4 176.6,178.5 176.9,187.2 180.9,188 181.3,200.5 177,201 138,201 136.8,200.1 135.4,193.2 135.8,187.2" fill="#0E8CFF"/>
<polygon points="176.6,157.3 206.4,157.3 206.9,172.1 211,172.5 211.2,197.6 215,198.4 215,205.3 208.1,204 199.4,203.6 197.7,201 181.3,200.5 180.9,188 176.9,187.2 176.6,178.5" fill="#0562B4"/>
<polygon points="206.4,157.3 233.7,157.3 233.7,170.8 228,174.2 227.7,196.3 215.6,196.7 211.2,197.6 211,172.5 206.9,172.1" fill="url(#dots)"/>
<polygon points="233.7,157.3 250.1,157.3 249.8,170.8 255.3,171.6 257.9,181.1 257.9,196.3 227.7,196.3 228,174.2 233.7,170.8" fill="#0E8CFF"/>
<polygon points="250.1,157.3 287,157.3 287,181.1 257.9,181.1 255.3,171.6 249.8,170.8" fill="#0E8CFF"/>
<polygon points="287,157.3 300.8,157.3 303.8,164.7 308.6,167.3 303.8,209.7 289.9,209.7 289.6,181.1 287,181.1" fill="#4DAEFF"/>
<polygon points="257.9,181.1 289.6,181.1 289.9,209.7 272.6,209.7 272.6,205.3 256.7,205 257.9,196.3" fill="#0E8CFF"/>
<polygon points="215.6,196.7 257.9,196.3 256.7,205 253.6,206.2 251.9,208.8 250.1,219.2 239.8,218.3 215.6,218.3 215,205.3 215,198.4" fill="#0E8CFF"/>
<polygon points="256.7,205 272.6,205.3 272.6,246 257.9,246.5 249.3,247.2 249.3,227.8 250.1,219.2 251.9,208.8 253.6,206.2" fill="#04345F"/>
<polygon points="272.6,209.7 303.8,209.7 300,246.5 272.6,246" fill="#0E8CFF"/>
<polygon points="215.6,218.3 239.8,218.3 250.1,219.2 249.3,227.8 249.3,247.2 224.2,247.7 215.6,247.7 215,239" fill="#0562B4"/>
<polygon points="138,201 177,201 177,238.8 160.5,239 143.2,239.6 143.2,228.7 138.4,225.2 137.2,205" fill="#0562B4"/>
<polygon points="177,201 181.3,200.5 197.7,201 199.4,203.6 208.1,204 215,205.3 215,239 194.2,239 193.4,235.6 177,236.5" fill="#04345F"/>
<polygon points="129.4,205.3 137.2,205 138.4,225.2 143.2,228.7 143.2,247.7 117.8,248.2 118.2,229.9 122.1,229.2 122.5,213.5 129,213.1" fill="#4DAEFF"/>
<polygon points="108.3,205 120.4,213.1 122.5,213.5 122.1,229.2 118.2,229.9 117.8,248.2 117.7,256.6 100.9,256.6 100.9,243.6 78.8,243.6 77.9,241 82.6,239.3 81.4,233.2 85.4,232.4 88.3,228.4 93,227.2 92.3,222 95.2,219.7 100.9,222 101.3,217.7 106.5,214.2" fill="#0562B4"/>
<polygon points="78.8,243.6 100.9,243.6 100.9,256.6 100.4,292 91.8,292.9 91.4,300.7 56.3,300.7 61.5,293.8 58.9,289.4 65.3,288.2 66.7,283.4 61.5,279.9 64.1,277.3 71,278.2 68.4,271.3 70.1,264.4 65.8,258.3 73.6,256.6 77.9,253.1 82.3,251.9 81.4,247.1" fill="#04345F"/>
<polygon points="100.9,256.6 117.7,256.6 117.7,273 117.7,320.8 109.1,320.8 109.1,326 91.8,326.3 91.4,300.7 91.8,292.9 100.4,292" fill="#0562B4"/>
<polygon points="117.8,248.2 143.2,247.6 143.2,239.5 160.5,239 160.5,265.4 160.5,271.5 143.2,274.1 143.3,283 142.6,282.6 136.9,280.8 133.4,281.4 130.3,284 130.5,278.8 139.5,277.4 139.5,273.5 117.7,273.2" fill="#0E8CFF"/>
<polygon points="160.5,239 177,238.8 177,236.5 193.4,235.6 194.2,239 194.2,268 172.6,267.7 172.3,265.4 160.5,265.4" fill="#4DAEFF"/>
<polygon points="194.2,239 215,239 215.6,247.7 224.2,247.7 223.9,273.2 220.4,273.6 220.8,281 194.7,281.9 194.2,268" fill="#4DAEFF"/>
<polygon points="160.5,265.4 172.3,265.4 172.6,267.7 194.2,268 194.7,281.9 194.4,286.7 170.5,286.7 143.7,286.2 143.2,281.9 143.2,274.1 160.5,271.5" fill="#0E8CFF"/>
<polygon points="117.7,273.2 139.5,273.5 139.5,277.4 130.5,278.8 130.3,284 133.4,281.4 136.9,280.8 142.6,282.6 143.3,283 143.7,286.2 145.8,307.8 140.3,311.3 139.7,319.1 129,316.5 127.3,324.3 121.6,328.6 117.7,320.8" fill="#0562B4"/>
<polygon points="143.7,286.2 170.5,286.7 171.4,312.1 182.3,313.9 182.6,324.2 178.5,324.8 174.6,331.5 139.7,319.1 140.3,311.3 145.8,307.8" fill="#4DAEFF"/>
<polygon points="170.5,286.7 194.4,286.7 194.4,307.8 199,309.5 198.5,324.2 182.6,324.2 182.3,313.9 171.4,312.1" fill="#4DAEFF"/>
<polygon points="194.7,281.9 220.8,281 232.9,281 233.7,289.7 234.2,297.8 228.5,298.3 227.7,300.9 213.8,302 204.3,307.8 199,309.5 194.4,307.8 194.4,286.7" fill="url(#dots)"/>
<polygon points="199,309.5 204.3,307.8 213.8,302 227.7,300.9 228.5,324.8 227,333.2 217.8,333.5 217.8,341.5 210,341.8 209.4,324.8 198.5,324.2" fill="url(#dots)"/>
<polygon points="178.5,324.8 209.4,324.8 210,341.8 209.5,359.4 176.1,359.4 175.7,363.6 156.7,363.6 163.1,356.3 174.6,331.5" fill="#4DAEFF"/>
<polygon points="129,316.5 139.7,319.1 174.6,331.5 163.1,356.3 156.7,363.6 125.9,351.1 119,343.3 127.3,339 127.3,324.3" fill="#0E8CFF"/>
<polygon points="109.1,320.8 117.7,320.8 121.6,328.6 127.3,324.3 127.3,339 119,343.3 125.9,351.1 117.7,351.9 117.5,360 100.9,359.5 99.9,343.3 98.7,333.2 96.1,327.2 91.8,326.3 109.1,326" fill="url(#dots)"/>
<polygon points="56.3,300.7 91.4,300.7 91.8,326.3 96.1,327.2 98.7,333.2 99.9,343.3 79.7,343.3 79.3,351.4 60.1,351.4 62.4,347.1 58.9,342.7 61.5,340.1 65.3,339.3 67.6,331.5 65.8,326.3 62.4,323.7 61.5,318.5 63.2,314.2 60.6,309.9 58,304.7" fill="#04345F"/>
<polygon points="79.7,343.3 99.9,343.3 100.9,359.5 93.5,368.7 97,371.3 94.7,378.2 99.2,384.2 75.3,385.1 75.7,367.8 78.8,355.7 79.3,351.4" fill="url(#dots)"/>
<polygon points="60.1,351.4 79.3,351.4 78.8,355.7 75.7,367.8 75.3,385.1 99.2,384.2 97,386.8 95.8,390.3 93.8,394.2 84.4,393.6 83.5,406.4 75.7,408.2 75.7,393.6 69.5,393.4 65.8,387.7 65.3,383.4 67.6,379.1 61.5,374.7 60.1,369.5 62.4,365.2 66.7,361.8 65.3,357.4 62.4,354" fill="url(#dots)"/>
<polygon points="117.5,360 117.7,351.9 125.9,351.1 156.7,363.6 151,377.9 142.4,383.1 130.3,386.6 121.6,394.4 117.3,394.4 110.5,400.5 101.6,396.1 101,392 95.8,390.3 97,386.8 99.2,384.2 94.7,378.2 97,371.3 93.5,368.7 100.9,359.5" fill="#0E8CFF"/>
<polygon points="156.7,363.6 175.7,363.6 176.1,387.4 171.8,391.8 166.6,391.8 155.3,402.1 150.1,404.7 147.6,410.8 134.6,409.9 134.2,401.3 117.3,400.9 117.3,394.4 121.6,394.4 130.3,386.6 142.4,383.1 151,377.9" fill="#04345F"/>
<polygon points="84.4,393.6 93.8,394.2 95.8,390.3 101,392 101.6,396.1 110.5,400.5 103.4,413.3 96.5,415.9 95.6,427.2 77.4,441 69.7,439.3 64.5,428.9 73.1,428 78.3,415.9 74.8,414.2 75.7,408.2 83.5,406.4" fill="#0562B4"/>
<polygon points="69.5,393.4 75.7,393.6 75.7,407.3 68.8,406.4 68.2,400.2 71.5,398.8" fill="#0562B4"/>
<polygon points="110.5,400.5 117.3,394.4 117.3,400.9 134.2,401.3 134.6,409.9 147.6,410.8 139.5,422.1 138.6,429.9 133.7,434.2 135.1,443.7 95.7,443.7 95.6,427.2 96.5,415.9 103.4,413.3" fill="#04345F"/>
<polygon points="171.8,391.8 174.4,403 175.7,413.4 175.8,427.3 175.8,443.7 135.1,443.7 133.7,434.2 138.6,429.9 139.5,422.1 147.6,410.8 150.1,404.7 155.3,402.1 166.6,391.8" fill="#04345F"/>
<polygon points="176.1,359.4 209.5,359.4 209.5,393 176.4,393 176.1,387.4" fill="#0E8CFF"/>
<polygon points="171.8,391.8 176.1,387.4 176.4,393 209.5,393 209,427.2 175.8,427.3 175.7,413.4 174.4,403" fill="#0562B4"/>
<polygon points="209.5,359.4 234.8,359.8 241.7,360.6 242,393 209.5,393" fill="#04345F"/>
<polygon points="228.5,324.8 250.4,324.8 250.7,359.4 241.7,360.6 234.8,359.8 209.5,359.4 210,341.8 217.8,341.5 217.8,333.5 227,333.2" fill="#0E8CFF"/>
<polygon points="250.4,324.8 262.6,324.2 291.7,324.2 288.4,359.4 250.7,359.4" fill="#4DAEFF"/>
<polygon points="241.7,360.6 250.7,359.4 288.4,359.4 284.9,393 242,393" fill="url(#dots)"/>
<polygon points="242,393 284.9,393 281.5,426.9 242.4,427.2" fill="#04345F"/>
<polygon points="209.5,393 242,393 242.4,427.2 209,427.2" fill="#0E8CFF"/>
<polygon points="228.5,298.3 234.2,297.8 261.9,297.8 262.6,303.5 262.6,324.2 250.4,324.8 228.5,324.8 227.7,300.9" fill="#04345F"/>
<polygon points="241.5,273.6 257.9,273.2 257.9,286.2 275.2,286.7 276.1,289.7 278.7,301.2 262.6,303.5 261.9,297.8 234.2,297.8 233.7,289.7 232.9,281 233.2,280.5 241.2,279.3" fill="#4DAEFF"/>
<polygon points="224.2,247.7 249.3,247.2 257.9,246.8 257.9,273.2 241.5,273.6 241.2,279.3 233.2,280.5 220.8,281 220.4,273.6 223.9,273.2" fill="#0E8CFF"/>
<polygon points="257.9,246.8 272.6,246 300,246.5 296,280.1 289.9,280.5 284.7,286.2 279.5,288.8 276.1,289.7 275.2,286.7 257.9,286.2 257.9,273.2" fill="#0562B4"/>
<polygon points="296,280.1 289.9,280.5 284.7,286.2 279.5,288.8 276.1,289.7 278.7,301.2 262.6,303.5 262.6,324.2 291.7,324.2" fill="#04345F"/>
<polygon points="209,427.2 242.4,427.2 242.7,465.3 239.8,466.2 209,467.4" fill="#4DAEFF"/>
<polygon points="242.4,427.2 281.5,426.9 279.9,441.1 278.5,459.3 264.4,462.7 242.7,465.3" fill="#4DAEFF"/>
<polygon points="175.8,427.3 209,427.2 209,467.4 203,468.3 181.8,468.8 181.5,444.2 175.8,443.7" fill="#4DAEFF"/>
<polygon points="135.1,443.7 175.8,443.7 181.5,444.2 181.8,468.8 174.1,469.7 155.9,471.4 145.2,470.9" fill="#0E8CFF"/>
<polygon points="95.7,443.7 135.1,443.7 145.2,470.9 134.3,475.7 123.9,478.8 119.6,476.6 94.5,477.1 94.4,469.2" fill="#0562B4"/>
<polygon points="95.6,427.2 95.7,443.7 94.4,469.2 85.7,469.2 85.2,464.7 75.7,461.8 54.1,461.2 57.6,456.6 58.8,450.9 63.6,448.8 69.7,439.3 77.4,441" fill="#4DAEFF"/>
<polygon points="54.1,461.2 75.7,461.8 85.2,464.7 85.7,469.2 94.4,469.2 94.5,477.1 94.4,485.4 60.1,486 48.9,480.3 47.2,474.2 44.6,473.3 43.7,466.1 45.4,464" fill="url(#dots)"/>
<polygon points="44.6,473.3 47.2,474.2 48.9,480.3 60.1,486 60.5,510.5 47.2,509.7 35.6,513.6 33.3,523.5 24.7,525.2 20.7,521.2 23,519.2 27.3,519.5 30.4,515.7 29.4,508.8 31.6,503.6 31.1,495.8 36.8,492.4 35.6,485.4 41.1,482.9 42,475.1" fill="#0E8CFF"/>
<polygon points="47.2,509.7 60.5,510.5 65.3,513.1 67.9,517.4 68.3,543.9 21.2,543.9 26.9,539.9 22.5,531.3 24.7,525.2 33.3,523.5 35.6,513.6" fill="url(#dots)"/>
<polygon points="60.1,486 94.4,485.4 103,485.8 103.4,510.5 67.9,510.9 65.3,513.1 60.5,510.5" fill="url(#dots)"/>
<polygon points="94.5,477.1 119.6,476.6 123.9,478.8 134.3,475.7 134.3,510.5 109.7,510.6 103.4,510.5 103,485.8 94.4,485.4" fill="#0562B4"/>
<polygon points="65.3,513.1 67.9,510.9 103.4,510.5 109.7,510.6 110,543.9 68.3,543.9 67.9,517.4" fill="#4DAEFF"/>
<polygon points="109.7,510.6 133.4,510.6 133,543.7 110,543.9" fill="#0562B4"/>
<polygon points="133.4,510.6 134.3,510.5 146.9,511.2 150.9,511.9 151.7,526.8 159,531.1 160.7,536.3 167.3,537.2 167.6,543.6 133,543.7" fill="#4DAEFF"/>
<polygon points="134.3,475.7 145.2,470.9 155.9,471.4 155.6,487.8 157.6,506 151.4,506.9 150.9,511.9 146.9,511.2 134.3,510.5" fill="#4DAEFF"/>
<polygon points="155.9,471.4 174.1,469.7 174.1,485.2 187.9,495.6 187.9,502.8 181.8,503 168.9,503 168.7,506.6 157.6,506 155.6,487.8" fill="url(#dots)"/>
<polygon points="174.1,469.7 181.8,468.8 203,468.3 203,502.6 197.8,503 187.9,502.8 187.9,495.6 174.1,485.2" fill="#0E8CFF"/>
<polygon points="203,468.3 209,467.4 239.8,466.2 239.8,502.6 223.4,503 203,502.6" fill="#04345F"/>
<polygon points="239.8,466.2 242.7,465.3 264.4,462.7 278.5,459.3 279.1,470.5 279.9,487.8 280,502.6 248.3,502.9 239.8,502.6" fill="#0E8CFF"/>
<polygon points="151.4,506.9 157.6,506 168.7,506.6 168.9,503 181.8,503 182,543.4 175.9,544.1 167.6,543.6 167.3,537.2 160.7,536.3 159,531.1 151.7,526.8 150.9,511.9" fill="#0E8CFF"/>
<polygon points="181.8,503 187.9,502.8 197.8,503 198.7,510.5 207,511.2 207.6,545 200.5,545.5 195.3,543.2 182,543.4" fill="#04345F"/>
<polygon points="197.8,503 203,502.6 223.4,503 223.5,551.9 208,551.9 207.6,545 207,511.2 198.7,510.5" fill="#04345F"/>
<polygon points="223.4,503 239.8,502.6 248.3,502.9 248.6,544.1 248.6,551.9 245.1,552.7 223.5,551.9" fill="#4DAEFF"/>
<polygon points="248.3,502.9 280,502.6 281.5,544.1 248.6,544.1" fill="#4DAEFF"/>
<polygon points="248.6,544.1 281.5,544.1 282.8,568.8 245.1,568.8 245.1,552.7 248.6,551.9" fill="#0E8CFF"/>
<polygon points="208,551.9 223.5,551.9 245.1,552.7 245.1,568.8 244.8,574.7 215.8,574.7 208,576.9" fill="#4DAEFF"/>
<polygon points="175.9,544.1 182,543.4 195.3,543.2 200.5,545.5 207.6,545 208,551.9 208,576.9 191,577.5 190.5,589.6 179.7,594.2 171.1,585.6 167.3,570 171.9,558.8 174.5,551" fill="#0E8CFF"/>
<polygon points="191,577.5 208,576.9 208.2,604 210.3,608.7 203.1,615 198.8,619.3 191,619.3 185.8,616.7 182.3,603.8 179.7,594.2 190.5,589.6" fill="#4DAEFF"/>
<polygon points="208,576.9 215.8,574.7 244.8,574.7 243.4,600.3 236.5,602 224.4,605.5 210.3,608.7 208.2,604" fill="#04345F"/>
<polygon points="245.1,568.8 282.8,568.8 284.6,604.6 279.7,606.9 276.3,605.5 271.1,606.3 264.2,604.6 259,605.5 250.3,603.8 244.8,601.2 243.4,600.3 244.8,574.7" fill="#04345F"/>
</g>
<path d="M20.7,521.2 L20.7,521.2 L24.5,525.0 L24.5,525.0 L24.5,525.0 L24.6,525.1 L24.6,525.1 L24.6,525.2 L24.6,525.2 L24.6,525.3 L24.6,525.3 L24.6,525.4 L24.6,525.4 L24.6,525.5 L24.6,525.5 L22.5,531.3 L22.5,531.3 L22.5,531.3 L26.7,539.5 L26.7,539.6 L26.7,539.6 L26.7,539.6 L26.8,539.7 L26.8,539.7 L26.8,539.8 L26.7,539.8 L26.7,539.9 L26.7,539.9 L26.7,540.0 L26.7,540.0 L26.6,540.1 L26.6,540.1 L26.6,540.1 L26.5,540.1 L21.2,543.9 L21.2,543.9 L21.2,543.9 L110.0,543.9 L133.0,543.7 L133.0,543.7 L167.6,543.6 L167.6,543.6 L175.3,544.1 L175.4,544.1 L175.4,544.1 L175.5,544.1 L175.5,544.1 L175.6,544.1 L175.6,544.2 L175.6,544.2 L175.7,544.2 L175.7,544.3 L175.7,544.3 L175.8,544.4 L175.8,544.4 L175.8,544.5 L175.8,544.5 L175.8,544.6 L175.8,544.6 L175.8,544.7 L174.5,551.0 L174.5,551.0 L171.9,558.8 L171.9,558.8 L167.3,570.0 L167.3,570.0 L167.3,570.0 L171.1,585.6 L171.1,585.6 L171.1,585.6 L179.6,594.1 L179.6,594.1 L179.7,594.2 L179.7,594.2 L179.7,594.3 L179.7,594.3 L182.3,603.8 L185.8,616.7 L185.8,616.7 L185.8,616.7 L191.0,619.3 L191.0,619.3 L191.0,619.3 L198.8,619.3 L198.8,619.3 L198.8,619.3 L203.1,615.0 L203.1,615.0 L210.2,608.8 L210.2,608.8 L210.3,608.7 L210.3,608.7 L210.4,608.7 L210.4,608.7 L224.4,605.5 L224.4,605.5 L236.5,602.0 L236.5,602.0 L243.2,600.4 L243.2,600.3 L243.3,600.3 L243.3,600.3 L243.4,600.3 L243.4,600.4 L243.5,600.4 L243.5,600.4 L243.6,600.4 L244.8,601.2 L244.8,601.2 L250.3,603.8 L250.3,603.8 L250.3,603.8 L259.0,605.5 L259.0,605.5 L259.0,605.5 L264.1,604.6 L264.1,604.6 L264.2,604.6 L264.3,604.6 L264.3,604.6 L271.1,606.3 L271.1,606.3 L271.1,606.3 L276.2,605.5 L276.2,605.5 L276.3,605.5 L276.3,605.5 L276.3,605.5 L276.4,605.5 L276.4,605.6 L279.7,606.9 L279.7,606.9 L279.7,606.9 L284.6,604.6 L284.6,604.6 L284.6,604.6 L282.8,568.8 L281.5,544.1 L281.5,544.1 L280.0,502.6 L280.0,502.6 L279.9,487.8 L279.9,487.8 L279.1,470.5 L278.5,459.3 L278.5,459.3 L279.9,441.1 L279.9,441.1 L281.5,426.9 L281.5,426.9 L284.9,393.0 L284.9,393.0 L288.4,359.4 L288.4,359.4 L291.7,324.2 L291.7,324.2 L296.0,280.1 L296.0,280.1 L300.0,246.5 L300.0,246.5 L303.8,209.7 L303.8,209.7 L308.6,167.3 L308.6,167.3 L308.6,167.3 L304.0,164.8 L303.9,164.8 L303.9,164.7 L303.8,164.7 L303.8,164.7 L303.8,164.6 L303.8,164.6 L303.7,164.5 L300.8,157.3 L300.8,157.3 L300.8,157.3 L129.4,157.3 L129.4,157.3 L129.4,157.3 L133.5,162.7 L133.5,162.8 L133.6,162.8 L133.6,162.9 L133.6,162.9 L133.6,163.0 L133.6,163.0 L133.6,163.1 L133.6,163.1 L133.6,163.2 L133.6,163.2 L133.6,163.2 L133.5,163.3 L130.9,168.1 L130.8,168.1 L130.8,168.1 L130.8,168.2 L130.7,168.2 L130.7,168.2 L130.7,168.3 L122.6,172.5 L122.5,172.5 L122.5,172.5 L122.4,172.5 L116.8,173.3 L116.8,173.3 L116.8,173.3 L112.1,182.0 L112.1,182.0 L109.5,188.9 L109.5,188.9 L106.6,194.6 L106.6,194.6 L106.6,194.6 L108.9,200.0 L109.0,200.0 L109.0,200.1 L109.0,200.1 L109.0,200.1 L109.0,200.2 L109.0,200.2 L108.3,205.0 L108.3,205.0 L106.5,214.0 L106.5,214.0 L106.5,214.1 L106.5,214.1 L106.5,214.2 L106.4,214.2 L106.4,214.3 L106.4,214.3 L106.3,214.3 L101.3,217.7 L101.3,217.7 L101.3,217.7 L101.0,221.3 L101.0,221.4 L100.9,221.4 L100.9,221.5 L100.9,221.5 L100.9,221.6 L100.9,221.6 L100.8,221.6 L100.8,221.7 L100.7,221.7 L100.7,221.7 L100.7,221.7 L100.6,221.8 L100.6,221.8 L100.5,221.8 L100.5,221.8 L100.4,221.8 L100.4,221.8 L100.3,221.8 L100.3,221.7 L95.2,219.7 L95.2,219.7 L95.2,219.7 L92.3,222.0 L92.3,222.0 L92.3,222.0 L92.9,226.8 L92.9,226.8 L92.9,226.9 L92.9,226.9 L92.9,227.0 L92.9,227.0 L92.9,227.0 L92.9,227.1 L92.8,227.1 L92.8,227.2 L92.8,227.2 L92.7,227.2 L92.7,227.3 L92.7,227.3 L92.6,227.3 L92.6,227.3 L88.3,228.4 L88.3,228.4 L88.3,228.4 L85.5,232.2 L85.5,232.3 L85.5,232.3 L85.4,232.3 L85.4,232.4 L85.3,232.4 L85.3,232.4 L85.3,232.4 L85.2,232.4 L81.4,233.2 L81.4,233.2 L81.4,233.2 L82.5,238.9 L82.5,238.9 L82.5,239.0 L82.5,239.0 L82.5,239.1 L82.5,239.1 L82.5,239.2 L82.5,239.2 L82.4,239.3 L82.4,239.3 L82.4,239.3 L82.3,239.4 L82.3,239.4 L82.2,239.4 L82.2,239.4 L77.9,241.0 L77.9,241.0 L77.9,241.0 L78.8,243.6 L78.8,243.6 L78.8,243.6 L81.3,247.0 L81.4,247.0 L81.4,247.1 L81.4,247.1 L81.4,247.2 L81.4,247.2 L82.2,251.4 L82.2,251.5 L82.2,251.5 L82.2,251.6 L82.2,251.6 L82.2,251.7 L82.2,251.7 L82.2,251.8 L82.1,251.8 L82.1,251.9 L82.1,251.9 L82.0,251.9 L82.0,252.0 L81.9,252.0 L81.9,252.0 L81.9,252.0 L77.9,253.1 L77.9,253.1 L77.9,253.1 L73.7,256.5 L73.7,256.6 L73.6,256.6 L73.6,256.6 L73.5,256.6 L73.5,256.6 L65.8,258.3 L65.8,258.3 L65.8,258.3 L70.0,264.2 L70.0,264.3 L70.0,264.3 L70.0,264.3 L70.0,264.4 L70.1,264.4 L70.1,264.5 L70.1,264.5 L70.1,264.6 L70.0,264.6 L68.4,271.3 L68.4,271.3 L68.4,271.3 L70.7,277.4 L70.7,277.5 L70.7,277.5 L70.7,277.6 L70.7,277.6 L70.7,277.7 L70.7,277.7 L70.7,277.8 L70.7,277.8 L70.7,277.8 L70.6,277.9 L70.6,277.9 L70.6,278.0 L70.5,278.0 L70.5,278.0 L70.5,278.0 L70.4,278.1 L70.4,278.1 L70.3,278.1 L70.3,278.1 L70.2,278.1 L70.2,278.1 L64.1,277.3 L64.1,277.3 L64.1,277.3 L61.5,279.9 L61.5,279.9 L61.5,279.9 L66.4,283.2 L66.4,283.2 L66.5,283.3 L66.5,283.3 L66.5,283.3 L66.6,283.4 L66.6,283.4 L66.6,283.5 L66.6,283.5 L66.6,283.6 L66.6,283.6 L66.6,283.7 L66.6,283.7 L66.6,283.8 L65.4,287.9 L65.4,288.0 L65.3,288.0 L65.3,288.0 L65.3,288.1 L65.3,288.1 L65.2,288.2 L65.2,288.2 L65.1,288.2 L65.1,288.2 L65.0,288.2 L65.0,288.3 L58.9,289.4 L58.9,289.4 L58.9,289.4 L61.3,293.5 L61.4,293.6 L61.4,293.6 L61.4,293.6 L61.4,293.7 L61.4,293.7 L61.4,293.8 L61.4,293.8 L61.4,293.9 L61.4,293.9 L61.3,294.0 L61.3,294.0 L61.3,294.1 L56.3,300.7 L56.3,300.7 L56.3,300.7 L58.0,304.7 L58.0,304.7 L60.6,309.9 L60.6,309.9 L63.1,314.0 L63.1,314.0 L63.1,314.1 L63.1,314.1 L63.1,314.2 L63.1,314.2 L63.1,314.3 L63.1,314.3 L63.1,314.4 L63.1,314.4 L61.5,318.5 L61.5,318.5 L61.5,318.5 L62.4,323.7 L62.4,323.7 L62.4,323.7 L65.7,326.2 L65.7,326.2 L65.8,326.3 L65.8,326.3 L65.8,326.4 L65.8,326.4 L65.8,326.4 L67.5,331.3 L67.6,331.4 L67.6,331.4 L67.6,331.5 L67.6,331.6 L67.6,331.6 L67.6,331.7 L65.4,339.0 L65.4,339.1 L65.3,339.1 L65.3,339.1 L65.3,339.2 L65.3,339.2 L65.2,339.3 L65.2,339.3 L65.1,339.3 L65.1,339.3 L65.1,339.3 L65.0,339.4 L61.5,340.1 L61.5,340.1 L61.5,340.1 L58.9,342.7 L58.9,342.7 L58.9,342.7 L62.2,346.8 L62.2,346.9 L62.2,346.9 L62.3,347.0 L62.3,347.0 L62.3,347.1 L62.3,347.1 L62.3,347.2 L62.3,347.2 L62.3,347.3 L62.3,347.3 L62.3,347.3 L62.2,347.4 L60.1,351.4 L60.1,351.4 L60.1,351.4 L62.4,354.0 L62.4,354.0 L65.2,357.3 L65.3,357.4 L65.3,357.4 L65.3,357.4 L65.3,357.5 L66.6,361.5 L66.6,361.5 L66.6,361.6 L66.6,361.6 L66.6,361.7 L66.6,361.7 L66.6,361.8 L66.6,361.8 L66.6,361.9 L66.5,361.9 L66.5,361.9 L66.5,362.0 L66.4,362.0 L62.4,365.2 L62.4,365.2 L62.4,365.2 L60.1,369.5 L60.1,369.5 L60.1,369.5 L61.5,374.7 L61.5,374.7 L61.5,374.7 L67.2,378.8 L67.3,378.9 L67.3,378.9 L67.3,378.9 L67.4,379.0 L67.4,379.0 L67.4,379.1 L67.4,379.1 L67.4,379.2 L67.5,379.2 L67.5,379.3 L67.4,379.3 L67.4,379.4 L67.4,379.4 L67.4,379.4 L67.4,379.5 L65.3,383.4 L65.3,383.4 L65.3,383.4 L65.8,387.7 L65.8,387.7 L65.8,387.7 L69.5,393.4 L69.5,393.4 L69.5,393.5 L71.3,398.4 L71.3,398.4 L71.4,398.4 L71.4,398.5 L71.4,398.5 L71.4,398.6 L71.4,398.6 L71.3,398.7 L71.3,398.7 L71.3,398.8 L71.3,398.8 L71.2,398.8 L71.2,398.9 L71.2,398.9 L71.1,398.9 L71.1,399.0 L71.1,399.0 L68.2,400.2 L68.2,400.2 L68.2,400.2 L68.8,406.4 L68.8,406.4 L68.8,406.4 L75.3,407.2 L75.3,407.3 L75.4,407.3 L75.4,407.3 L75.4,407.3 L75.5,407.3 L75.5,407.4 L75.6,407.4 L75.6,407.4 L75.6,407.5 L75.6,407.5 L75.7,407.6 L75.7,407.6 L75.7,407.6 L75.7,407.7 L75.7,407.7 L75.7,408.2 L75.7,408.2 L75.7,408.2 L74.8,414.2 L74.8,414.2 L74.8,414.2 L77.9,415.7 L77.9,415.7 L78.0,415.7 L78.0,415.8 L78.0,415.8 L78.1,415.8 L78.1,415.9 L78.1,415.9 L78.1,416.0 L78.1,416.0 L78.1,416.1 L78.2,416.1 L78.2,416.2 L78.1,416.2 L78.1,416.2 L78.1,416.3 L78.1,416.3 L73.2,427.7 L73.2,427.8 L73.2,427.8 L73.1,427.9 L73.1,427.9 L73.1,427.9 L73.0,427.9 L73.0,428.0 L72.9,428.0 L72.9,428.0 L72.9,428.0 L72.8,428.0 L64.5,428.9 L64.5,428.9 L64.5,428.9 L69.6,439.0 L69.6,439.1 L69.6,439.1 L69.6,439.2 L69.6,439.2 L69.6,439.3 L69.6,439.3 L69.6,439.4 L69.6,439.4 L69.6,439.5 L69.6,439.5 L69.5,439.5 L63.7,448.7 L63.7,448.7 L63.6,448.7 L63.6,448.8 L63.5,448.8 L63.5,448.8 L63.5,448.9 L58.8,450.9 L58.8,450.9 L58.8,450.9 L57.6,456.5 L57.6,456.5 L57.6,456.6 L57.6,456.6 L57.6,456.7 L57.5,456.7 L54.2,461.1 L54.2,461.1 L54.1,461.1 L54.1,461.2 L54.0,461.2 L54.0,461.2 L54.0,461.2 L45.4,464.0 L45.4,464.0 L45.4,464.0 L43.7,466.1 L43.7,466.1 L43.7,466.1 L44.6,473.0 L44.6,473.0 L44.6,473.1 L44.6,473.1 L44.5,473.2 L44.5,473.2 L44.5,473.3 L44.5,473.3 L44.5,473.4 L44.4,473.4 L44.4,473.4 L44.4,473.5 L42.0,475.1 L42.0,475.1 L42.0,475.1 L41.1,482.6 L41.1,482.7 L41.1,482.7 L41.1,482.8 L41.1,482.8 L41.0,482.9 L41.0,482.9 L41.0,482.9 L40.9,483.0 L40.9,483.0 L40.8,483.0 L35.6,485.4 L35.6,485.4 L35.6,485.4 L36.7,492.1 L36.7,492.1 L36.7,492.2 L36.7,492.2 L36.7,492.3 L36.7,492.3 L36.7,492.4 L36.7,492.4 L36.7,492.4 L36.6,492.5 L36.6,492.5 L36.5,492.5 L36.5,492.6 L31.1,495.8 L31.1,495.8 L31.1,495.8 L31.6,503.5 L31.6,503.5 L31.6,503.6 L31.6,503.6 L31.6,503.7 L31.6,503.7 L29.4,508.8 L29.4,508.8 L29.4,508.8 L30.4,515.5 L30.4,515.5 L30.4,515.6 L30.4,515.6 L30.4,515.7 L30.3,515.7 L30.3,515.8 L30.3,515.8 L30.3,515.9 L27.5,519.3 L27.4,519.3 L27.4,519.4 L27.4,519.4 L27.3,519.4 L27.3,519.4 L27.2,519.5 L27.2,519.5 L27.1,519.5 L27.1,519.5 L27.0,519.5 L23.0,519.2 L23.0,519.2 L23.0,519.2 L20.7,521.2 L20.7,521.2Z" fill="none" stroke="#9aa6b2" stroke-width="0.7" stroke-linejoin="round"/>
</svg>
</body></html>
